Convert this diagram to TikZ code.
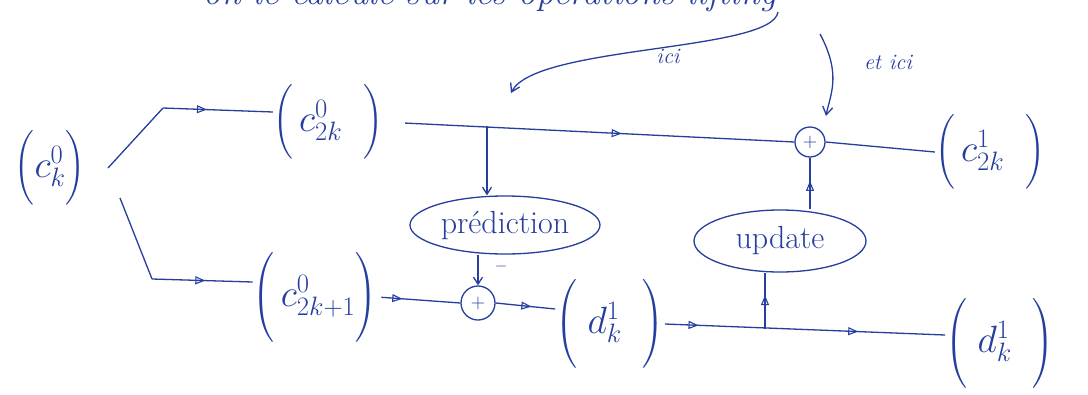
\RequirePackage{fix-cm}
\documentclass[tikz,border=0pt]{standalone}
\usepackage{amsmath}
\usetikzlibrary{arrows.meta,decorations.markings,shapes.geometric,calc}
\definecolor{ink}{RGB}{38,62,158}
\tikzset{
  ink line/.style={draw=ink, line width=1.3pt},
  mid tri/.style={postaction={decorate}, decoration={markings,
      mark=at position #1 with {\arrow[ink, line width=1.1pt]{Triangle[open,length=10pt,width=8pt]}}}},
  two tri/.style 2 args={postaction={decorate}, decoration={markings,
      mark=at position #1 with {\arrow[ink, line width=1.1pt]{Triangle[open,length=10pt,width=8pt]}},
      mark=at position #2 with {\arrow[ink, line width=1.1pt]{Triangle[open,length=10pt,width=8pt]}}}},
  barb/.style={-{Straight Barb[length=7pt,width=9pt]}},
  lab/.style={text=ink, font=\fontsize{38}{35}\selectfont, inner sep=0pt},
  bubble/.style={ellipse, draw=ink, line width=1.3pt, text=ink, font=\fontsize{32}{34}\selectfont, inner sep=0pt},
  sumnode/.style={circle, draw=ink, line width=1.3pt, text=ink, inner sep=0pt, minimum size=#1, font=\fontsize{20}{22}\selectfont},
  note/.style={text=ink, font=\fontsize{22}{26}\selectfont\itshape},
}
\begin{document}
\begin{tikzpicture}[x=1pt,y=-1pt]
\fill[white] (0,0) rectangle (1088,394);
\useasboundingbox (0,0) rectangle (1088,394);
\begin{scope}
  \clip (0,0) rectangle (1088,394);
  \node[text=ink, font=\fontsize{36}{40}\selectfont\itshape, anchor=base, inner sep=0pt] (head) at (490,4) {on le calcule sur les opérations lifting};
\end{scope}

% main labels
\node[lab] (ck) at (50,168) {$\Bigl(c^{0}_{k}\Bigr)$};
\node[lab] (c2k) at (328,122) {$\Bigl(\,c^{0}_{2k}\;\;\Bigr)$};
\node[lab] (c2k1) at (315,297) {$\biggl(\,c^{0}_{2k+1}\biggr)$};
\node[lab] (dk) at (610,324) {$\biggl(\;d^{1}_{k}\;\;\biggr)$};
\node[lab] (c1) at (990,152) {$\Bigl(\,c^{1}_{2k}\;\;\Bigr)$};
\node[lab] (dkr) at (1000,343) {$\biggl(\;d^{1}_{k}\;\;\biggr)$};

% operators
\node[bubble, minimum width=190pt, minimum height=58pt] (pred) at (505,225) {prédiction};
\node[bubble, minimum width=172pt, minimum height=62pt] (upd) at (780,241) {update};
\node[sumnode=34pt] (p1) at (478,303) {$+$};
\node[sumnode=30pt] (p2) at (810,142) {$+$};
\node[text=ink, font=\fontsize{16}{18}\selectfont, inner sep=0pt] (minus) at (501,266) {$-$};

% split
\coordinate (s1) at (108,168);
\coordinate (s2) at (163,108);
\coordinate (s3) at (120,198);
\coordinate (s4) at (152,279);
\draw[ink line] (s1) -- (s2);
\draw[ink line, mid tri=0.4] (s2) -- ($(c2k.west)+(0,-10)$);
\draw[ink line] (s3) -- (s4);
\draw[ink line, mid tri=0.53] (s4) -- ($(c2k1.west)+(0,-15)$);

% top path
\draw[ink line, mid tri=0.58, shorten <=22pt] (c2k.east) -- (p2.west);
\coordinate (b1) at (487,126);
\draw[ink line, barb] (b1) -- (pred.north -| b1);
\draw[ink line, barb] (pred.south -| p1) -- (p1.north);

% bottom path
\draw[ink line, mid tri=0.3, shorten <=4pt] (c2k1.east) -- (p1.west);
\draw[ink line, mid tri=0.6] (p1.east) -- ($(dk.west)+(0,-15)$);
\draw[ink line, two tri={0.12}{0.69}] (dk.east) -- ($(dkr.west)+(0,-8)$);
\coordinate (b2) at (765,329);
\draw[ink line, mid tri=0.6] (b2) -- (upd.south -| b2);
\draw[ink line, mid tri=0.55] (upd.north -| p2) -- (p2.south);
\draw[ink line] (p2.east) -- (c1.west);

% annotations
\coordinate (t1) at (778,12);
\coordinate (t1e) at (511,93);
\draw[ink line, -{Straight Barb[length=8pt,width=10pt]}] (t1) .. controls (772,52) and (535,45) .. (t1e);
\coordinate (t2) at (820,34);
\coordinate (t2e) at (826,116);
\draw[ink line, -{Straight Barb[length=8pt,width=10pt]}] (t2) .. controls (842,75) and (830,95) .. (t2e);
\node[note] (ici) at (668,56) {ici};
\node[note] (etici) at (888,62) {et ici};
\end{tikzpicture}
\end{document}
